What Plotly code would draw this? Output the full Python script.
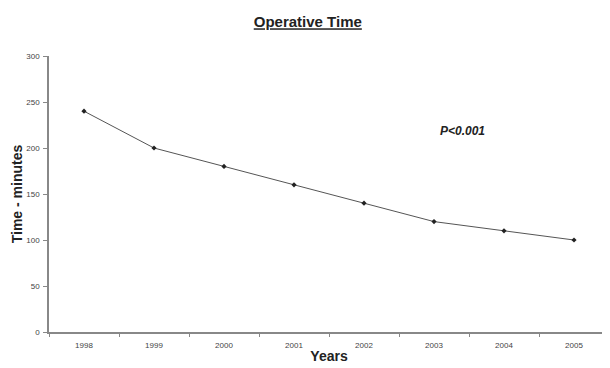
import plotly.graph_objects as go

years = ["1998", "1999", "2000", "2001", "2002", "2003", "2004", "2005"]
time_minutes = [240, 200, 180, 160, 140, 120, 110, 100]
y_ticks = [0, 50, 100, 150, 200, 250, 300]

fig = go.Figure()
fig.add_trace(go.Scatter(
    x=years, y=time_minutes, mode="lines+markers",
    line=dict(color="#555555", width=1),
    marker=dict(color="#222222", size=4, symbol="diamond"),
    showlegend=False,
))

axis_font = dict(family="Liberation Sans, Arial", size=8, color="#444444")
fig.update_layout(
    width=602, height=360,
    margin=dict(l=41, r=1, t=48, b=36),
    paper_bgcolor="white", plot_bgcolor="white",
    title=dict(text="<u><b>Operative Time</b></u>", x=0.498, xanchor="center",
               y=0.961, yanchor="middle",
               font=dict(family="Liberation Sans, Arial", size=15, color="#222222")),
    xaxis=dict(type="category", range=[-0.5, 7.5], tickson="boundaries",
               ticks="outside", ticklen=3, tickcolor="#888888",
               showline=True, linecolor="#888888", linewidth=1.5,
               showgrid=False, zeroline=False, tickfont=axis_font, automargin=False,
               ticklabelstandoff=5,
               title=dict(text="<b>Years</b>", standoff=2,
                          font=dict(family="Liberation Sans, Arial", size=14, color="#222222"))),
    yaxis=dict(range=[0, 300], tickvals=y_ticks, ticks="outside", ticklen=4,
               tickcolor="#888888", showline=True, linecolor="#888888", linewidth=1.5,
               showgrid=False, zeroline=False, tickfont=axis_font, automargin=False,
               ticklabelstandoff=2,
               title=dict(text="<b>Time - minutes</b>", standoff=0,
                          font=dict(family="Liberation Sans, Arial", size=14, color="#222222"))),
    font=dict(family="Liberation Sans, Arial"),
)
fig.add_annotation(x=5.4, y=218, xref="x", yref="y", text="<b><i>P<0.001</i></b>",
                   showarrow=False, font=dict(family="Liberation Sans, Arial", size=12, color="#222222"))
fig.write_html("out.html")
